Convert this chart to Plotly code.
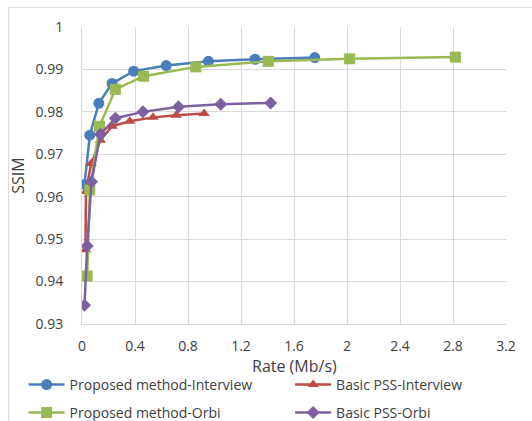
import plotly.graph_objects as go

# Proposed method - Interview
pi_rate = [0.019, 0.059, 0.127, 0.227, 0.39, 0.636, 0.954, 1.306, 1.757]
pi_ssim = [0.9629, 0.9745, 0.9820, 0.9867, 0.9896, 0.9909, 0.9919, 0.9924, 0.9928]

# Basic PSS - Interview
bi_rate = [0.026, 0.030, 0.069, 0.139, 0.227, 0.36, 0.536, 0.711, 0.922]
bi_ssim = [0.9475, 0.9612, 0.9678, 0.9733, 0.9766, 0.9778, 0.9787, 0.9792, 0.9796]

# Proposed method - Orbi
po_rate = [0.039, 0.059, 0.132, 0.252, 0.465, 0.859, 1.406, 2.02, 2.818]
po_ssim = [0.9413, 0.9616, 0.9766, 0.9853, 0.9884, 0.9906, 0.9919, 0.9925, 0.9929]

# Basic PSS - Orbi
bo_rate = [0.019, 0.039, 0.072, 0.139, 0.252, 0.46, 0.729, 1.047, 1.424]
bo_ssim = [0.9344, 0.9484, 0.9635, 0.9747, 0.9785, 0.9800, 0.9812, 0.9818, 0.9821]

x_ticks = [0, 0.4, 0.8, 1.2, 1.6, 2, 2.4, 2.8, 3.2]
y_ticks = [0.93, 0.94, 0.95, 0.96, 0.97, 0.98, 0.99, 1]

FONT = "Open Sans"
TXT = "#404040"

W, H = 532, 421
ML, MR, MT, MB = 81.5, 25.7, 26.7, 97
PW = W - ML - MR
PH = H - MT - MB


def px_x(px):
    return (px - ML) / PW


def px_y(py):
    return 1 - (py - MT) / PH


fig = go.Figure()
series = [
    ("Proposed method-Interview", pi_rate, pi_ssim, "#4A7EBB", "circle", 11, "legend"),
    ("Basic PSS-Interview", bi_rate, bi_ssim, "#BE4B48", "triangle-up", 10, "legend2"),
    ("Proposed method-Orbi", po_rate, po_ssim, "#98B954", "square", 11, "legend3"),
    ("Basic PSS-Orbi", bo_rate, bo_ssim, "#7D60A0", "diamond", 10, "legend4"),
]
for name, xs, ys, col, sym, sz, lg in series:
    fig.add_trace(go.Scatter(
        x=xs, y=ys, name=name, mode="lines+markers", legend=lg,
        line=dict(color=col, width=2.5),
        marker=dict(color=col, symbol=sym, size=sz, line=dict(width=0)),
    ))

legfont = dict(family=FONT, size=14, color=TXT)
col_x = [23, 290]          # pixel left of each legend column
row_top = [369, 397]       # pixel top of each legend row


def leg(cx, ry):
    return dict(x=px_x(cx), y=px_y(ry), xanchor="left", yanchor="top",
                font=legfont, bgcolor="rgba(0,0,0,0)", itemwidth=36)


fig.update_layout(
    width=W, height=H,
    margin=dict(l=ML, r=MR, t=MT, b=MB, autoexpand=False),
    paper_bgcolor="white", plot_bgcolor="white",
    font=dict(family=FONT, size=14, color=TXT),
    showlegend=True,
    legend=leg(col_x[0], row_top[0]),
    legend2=leg(col_x[1], row_top[0]),
    legend3=leg(col_x[0], row_top[1]),
    legend4=leg(col_x[1], row_top[1]),
    xaxis=dict(
        range=[0, 3.2], tickvals=x_ticks, ticktext=[str(v) for v in x_ticks],
        showgrid=True, gridcolor="#d9d9d9", gridwidth=1,
        showline=True, linecolor="#d9d9d9", linewidth=1,
        zeroline=False, ticks="", ticklabelstandoff=9,
        tickfont=dict(size=14, color=TXT),
    ),
    yaxis=dict(
        range=[0.93, 1.0], tickvals=y_ticks,
        ticktext=["0.93", "0.94", "0.95", "0.96", "0.97", "0.98", "0.99", "1"],
        showgrid=True, gridcolor="#d9d9d9", gridwidth=1,
        showline=True, linecolor="#d9d9d9", linewidth=1,
        zeroline=False, ticks="", ticklabelstandoff=15,
        tickfont=dict(size=14, color=TXT),
        title=dict(text="SSIM", font=dict(size=16, color=TXT), standoff=6),
    ),
    annotations=[dict(text="Rate (Mb/s)", xref="paper", yref="paper",
                      x=0.5, y=px_y(366), xanchor="center", yanchor="middle",
                      showarrow=False, font=dict(size=16, color=TXT))],
    shapes=[dict(type="rect", xref="paper", yref="paper",
                 x0=px_x(8), x1=px_x(560), y0=px_y(450), y1=px_y(7),
                 line=dict(color="#d9d9d9", width=1), layer="below")],
)

fig.write_html("out.html", config={"displayModeBar": False},
               post_script="document.body.style.margin='0';")
